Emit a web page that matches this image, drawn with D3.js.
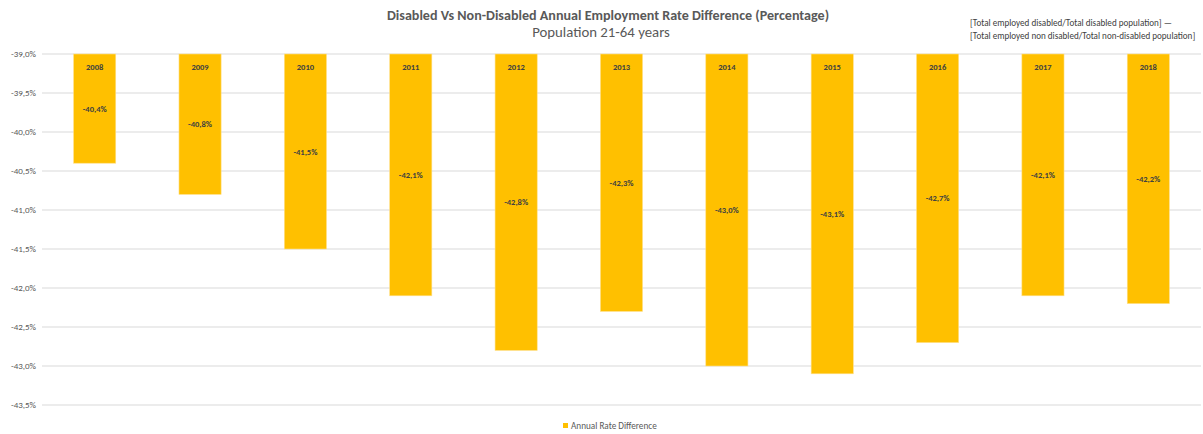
<!DOCTYPE html>
<html>
<head>
<meta charset="utf-8">
<script src="https://cdn.jsdelivr.net/npm/d3@7/dist/d3.min.js"></script>
<style>
  html, body { margin: 0; padding: 0; background: #fff; }
  svg { display: block; font-family: Calibri, Carlito, "Open Sans", "Liberation Sans", sans-serif; }
</style>
</head>
<body>
<svg id="chart" width="1203" height="434"></svg>
<script>
// Annual employment rate difference, disabled vs non-disabled (percentage points)
const years = ["2008", "2009", "2010", "2011", "2012", "2013", "2014", "2015", "2016", "2017", "2018"];
const rateDifference = [-40.4, -40.8, -41.5, -42.1, -42.8, -42.3, -43.0, -43.1, -42.7, -42.1, -42.2];
const yTicks = [-39.0, -39.5, -40.0, -40.5, -41.0, -41.5, -42.0, -42.5, -43.0, -43.5];

const svg = d3.select("#chart");
const plot = { left: 42, right: 1201, top: 54, bottom: 405 };

// Comma decimal separator, plain hyphen for the sign
const fmtPct = v => d3.format(".1f")(v).replace("\u2212", "-").replace(".", ",") + "%";

const x = d3.scaleBand()
  .domain(years)
  .range([plot.left, plot.right])
  .paddingInner(0.6)
  .paddingOuter(0.3);

const y = d3.scaleLinear()
  .domain([-39.0, -43.5])
  .range([plot.top, plot.bottom]);

// Horizontal gridlines
svg.append("g")
  .selectAll("line")
  .data(yTicks)
  .join("line")
  .attr("x1", plot.left)
  .attr("x2", plot.right)
  .attr("y1", d => y(d))
  .attr("y2", d => y(d))
  .attr("stroke", "#d9d9d9")
  .attr("stroke-width", 1);

// Y axis labels
const yAxis = d3.axisLeft(y)
  .tickValues(yTicks)
  .tickFormat(fmtPct)
  .tickSize(0)
  .tickPadding(6);

svg.append("g")
  .attr("transform", `translate(${plot.left},0)`)
  .call(yAxis)
  .call(g => g.select(".domain").remove())
  .call(g => g.selectAll("text")
    .attr("fill", "#595959")
    .style("font-size", "9px")
    .style("font-family", "Calibri, Carlito, 'Open Sans', sans-serif"));

// Bars hang down from the top of the axis
const bars = svg.append("g")
  .selectAll("g")
  .data(years.map((yr, i) => ({ year: yr, value: rateDifference[i] })))
  .join("g");

bars.append("rect")
  .attr("x", d => x(d.year))
  .attr("width", x.bandwidth())
  .attr("y", y(-39.0))
  .attr("height", d => y(d.value) - y(-39.0))
  .attr("fill", "#FFC000")
  .attr("stroke", "#ffe08a")
  .attr("stroke-width", 0.6);

// Year label near the top of each bar
bars.append("text")
  .attr("x", d => x(d.year) + x.bandwidth() / 2)
  .attr("y", y(-39.0) + 16)
  .attr("text-anchor", "middle")
  .attr("fill", "#404040")
  .style("font-size", "8.5px")
  .style("font-weight", "bold")
  .text(d => d.year);

// Value label centred in each bar
bars.append("text")
  .attr("x", d => x(d.year) + x.bandwidth() / 2)
  .attr("y", d => (y(-39.0) + y(d.value)) / 2 + 3)
  .attr("text-anchor", "middle")
  .attr("fill", "#404040")
  .style("font-size", "8.5px")
  .style("font-weight", "bold")
  .text(d => fmtPct(d.value));

// Title and subtitle
svg.append("text")
  .attr("x", 608)
  .attr("y", 20)
  .attr("text-anchor", "middle")
  .attr("fill", "#595959")
  .style("font-size", "14.1px")
  .style("font-weight", "bold")
  .text("Disabled Vs Non-Disabled Annual Employment Rate Difference (Percentage)");

svg.append("text")
  .attr("x", 601)
  .attr("y", 37)
  .attr("text-anchor", "middle")
  .attr("fill", "#595959")
  .style("font-size", "14.8px")
  .text("Population 21-64 years");

// Formula note, top right
const note = svg.append("text")
  .attr("fill", "#404040")
  .style("font-size", "9.1px");
note.append("tspan").attr("x", 970).attr("y", 26)
  .text("[Total employed disabled/Total disabled population] —");
note.append("tspan").attr("x", 970).attr("y", 39)
  .text("[Total employed non disabled/Total non-disabled population]");

// Legend
const legend = svg.append("g").attr("transform", "translate(563,423)");
legend.append("rect")
  .attr("width", 5).attr("height", 5)
  .attr("fill", "#FFC000");
legend.append("text")
  .attr("x", 8).attr("y", 5.5)
  .attr("fill", "#595959")
  .style("font-size", "9.2px")
  .text("Annual Rate Difference");
</script>
</body>
</html>
